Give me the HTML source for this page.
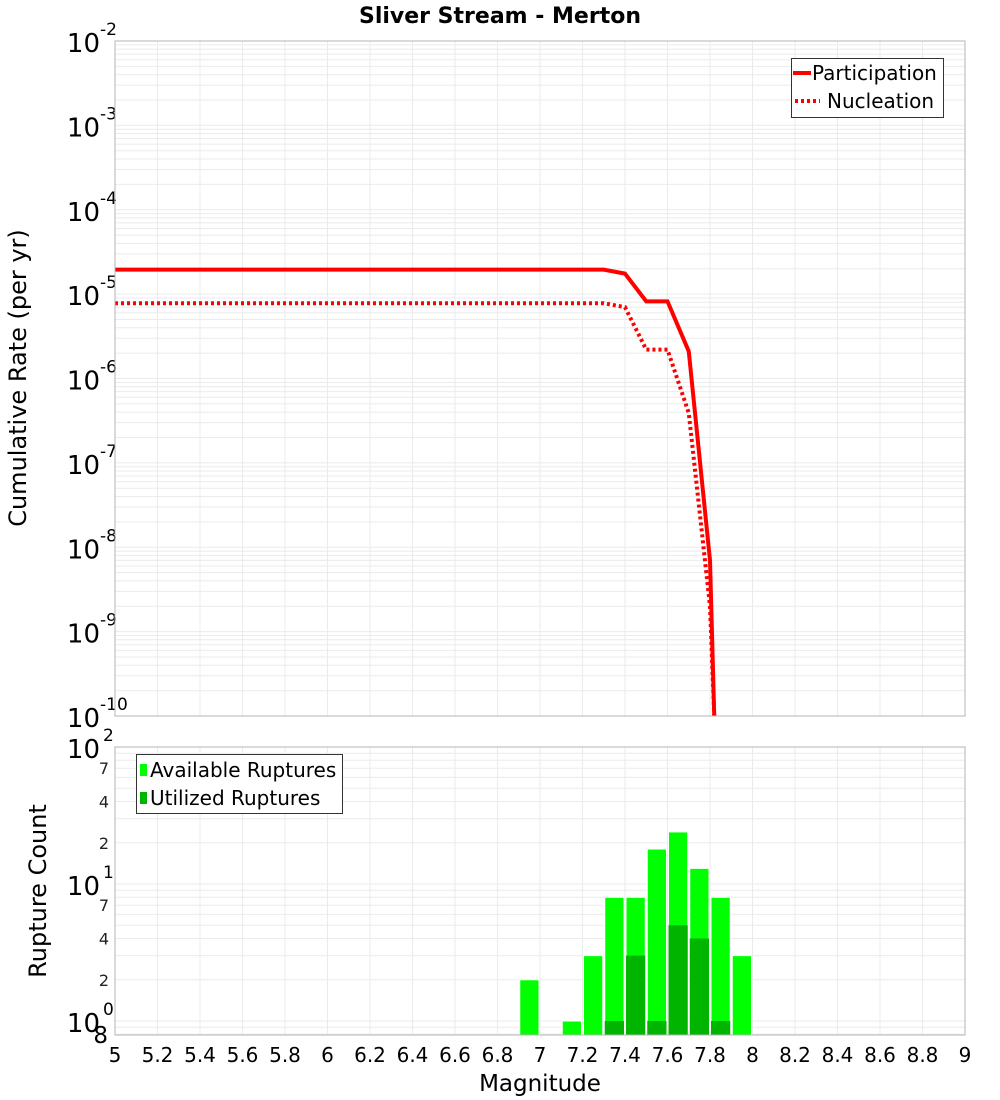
<!DOCTYPE html>
<html><head><meta charset="utf-8"><style>
body{margin:0;background:#fff;}
svg{display:block;font-family:"DejaVu Sans","Liberation Sans",sans-serif;}
</style></head><body>
<svg id="chart" width="1000" height="1100" xmlns="http://www.w3.org/2000/svg">
<text x="500" y="23" text-anchor="middle" font-size="22" font-weight="bold">Sliver Stream - Merton</text>
<g id="top"></g>
<g id="bot"></g>
<text transform="translate(26,378) rotate(-90)" text-anchor="middle" font-size="24">Cumulative Rate (per yr)</text>
<text transform="translate(46,891) rotate(-90)" text-anchor="middle" font-size="24">Rupture Count</text>
<text x="540" y="1091" text-anchor="middle" font-size="23">Magnitude</text>
</svg>
<script>
const magsPart = [5.0,7.3,7.4,7.5,7.6,7.7,7.8,7.82];
const valsPart = [1.95e-5,1.95e-5,1.75e-5,8.2e-6,8.2e-6,2.1e-6,7e-9,1e-11];
const magsNucl = [5.0,7.3,7.4,7.5,7.6,7.7,7.8,7.82];
const valsNucl = [7.8e-6,7.8e-6,7.0e-6,2.2e-6,2.2e-6,3.9e-7,2e-9,1e-11];
const binCenters = [6.95,7.15,7.25,7.35,7.45,7.55,7.65,7.75,7.85,7.95];
const availCounts = [2,1,3,8,8,18,24,13,8,3];
const usedCounts = [0,0,0,1,3,1,5,4,1,0];
const xTicks = [5,5.2,5.4,5.6,5.8,6,6.2,6.4,6.6,6.8,7,7.2,7.4,7.6,7.8,8,8.2,8.4,8.6,8.8,9];
const topExps = [-2,-3,-4,-5,-6,-7,-8,-9,-10];

const NS="http://www.w3.org/2000/svg";
function mk(p,t,a){const e=document.createElementNS(NS,t);for(const k in a)e.setAttribute(k,a[k]);p.appendChild(e);return e;}
const L=115,R=965;
const xS=m=>L+(m-5)/4*(R-L);
const TT=41,TB=716;
const yT=v=>TT+(-2-Math.log10(v))/8*(TB-TT);
const BT=747,BB=1035;
const yB=v=>BT+(2-Math.log10(v))*137;
const topG=document.getElementById('top'), botG=document.getElementById('bot');

for(let d=-10;d<-2;d++)for(let k=1;k<10;k++){const y=yT(k*Math.pow(10,d));
 const g=mk(topG,'line',{x1:L,x2:R,y1:y,y2:y,stroke:'#ebebeb','stroke-width':1});
 
 }
xTicks.forEach(m=>{const x=xS(m);
 const g=mk(topG,'line',{x1:x,x2:x,y1:TT,y2:TB,stroke:'#ebebeb','stroke-width':1});
 
 
 const g2=mk(botG,'line',{x1:x,x2:x,y1:BT,y2:BB,stroke:'#ebebeb','stroke-width':1});
 
 });
topExps.forEach(e=>{const y=yT(Math.pow(10,e));
 const t=mk(topG,'text',{x:100,y:y+11,'text-anchor':'end','font-size':26});t.textContent='10';
 
 
 const s=mk(topG,'text',{x:100,y:y-6,'font-size':17});s.textContent=String(e);
 
 });
function line(ms,vs,dash,name){const pts=ms.map((m,i)=>xS(m)+','+Math.min(yT(vs[i]),TB)).join(' ');
 const a={points:pts,fill:'none',stroke:'#ff0000','stroke-width':4,'stroke-linejoin':'miter'};
 if(dash)a['stroke-dasharray']='3,3';
 const p=mk(topG,'polyline',a);
 
 }
line(magsPart,valsPart,false,'participation-line');
line(magsNucl,valsNucl,true,'nucleation-line');
const tf=mk(topG,'rect',{x:L,y:TT,width:R-L,height:TB-TT,fill:'none',stroke:'#b4b4b4'});


const lg=mk(topG,'g',{});


mk(lg,'rect',{x:791.5,y:58.5,width:152,height:59,fill:'#fff',stroke:'#333'});
mk(lg,'line',{x1:793,x2:811,y1:73,y2:73,stroke:'#f00','stroke-width':4});
mk(lg,'line',{x1:795,x2:820,y1:101,y2:101,stroke:'#f00','stroke-width':4,'stroke-dasharray':'3,3'});
let t1=mk(lg,'text',{x:812,y:80,'font-size':20});t1.textContent='Participation';
let t2=mk(lg,'text',{x:827,y:108,'font-size':20});t2.textContent='Nucleation';

for(let d=-1;d<2;d++)for(let k=1;k<10;k++){const v=k*Math.pow(10,d);if(v<0.8)continue;const y=yB(v);
 const g=mk(botG,'line',{x1:L,x2:R,y1:y,y2:y,stroke:'#ebebeb','stroke-width':1});
 
 }
[[100,'10','2'],[10,'10','1'],[1,'10','0']].forEach(([v,b,e])=>{const y=yB(v);
 const t=mk(botG,'text',{x:100,y:y+11,'text-anchor':'end','font-size':26});t.textContent=b;
 
 
 const s=mk(botG,'text',{x:103,y:y-6,'font-size':17});s.textContent=e;
 
 });
[[70,'7'],[40,'4'],[20,'2'],[7,'7'],[4,'4'],[2,'2']].forEach(([v,l])=>{
 const t=mk(botG,'text',{x:109,y:yB(v)+6,'text-anchor':'end','font-size':16,fill:'#222'});t.textContent=l;
 
 });
const t8=mk(botG,'text',{x:108,y:1043,'text-anchor':'end','font-size':23});t8.textContent='8';


const bw=(R-L)/40;
binCenters.forEach((c,i)=>{const x=xS(c)-bw/2;
 if(availCounts[i]>0){const y=yB(availCounts[i]);
  const b=mk(botG,'rect',{x:x+1,y:y,width:bw-2,height:BB-y,fill:'#00ff00',stroke:'#fff','stroke-width':1});
  
  }
 if(usedCounts[i]>0){const y=yB(usedCounts[i]);
  const b=mk(botG,'rect',{x:x+1,y:y,width:bw-2,height:BB-y,fill:'#00b400'});
  
  }});
const bf=mk(botG,'rect',{x:L,y:BT,width:R-L,height:BB-BT,fill:'none',stroke:'#b4b4b4'});


xTicks.forEach(m=>{const t=mk(botG,'text',{x:xS(m),y:1062,'text-anchor':'middle','font-size':20});
 t.textContent=String(m);
 
 });
const lb=mk(botG,'g',{});


mk(lb,'rect',{x:136.5,y:754.5,width:206,height:59,fill:'#fff',stroke:'#333'});
mk(lb,'rect',{x:140,y:764,width:7,height:12,fill:'#00ff00'});
mk(lb,'rect',{x:140,y:792,width:7,height:12,fill:'#00b400'});
let t3=mk(lb,'text',{x:150,y:777,'font-size':20});t3.textContent='Available Ruptures';
let t4=mk(lb,'text',{x:150,y:805,'font-size':20});t4.textContent='Utilized Ruptures';
</script>
</body></html>
